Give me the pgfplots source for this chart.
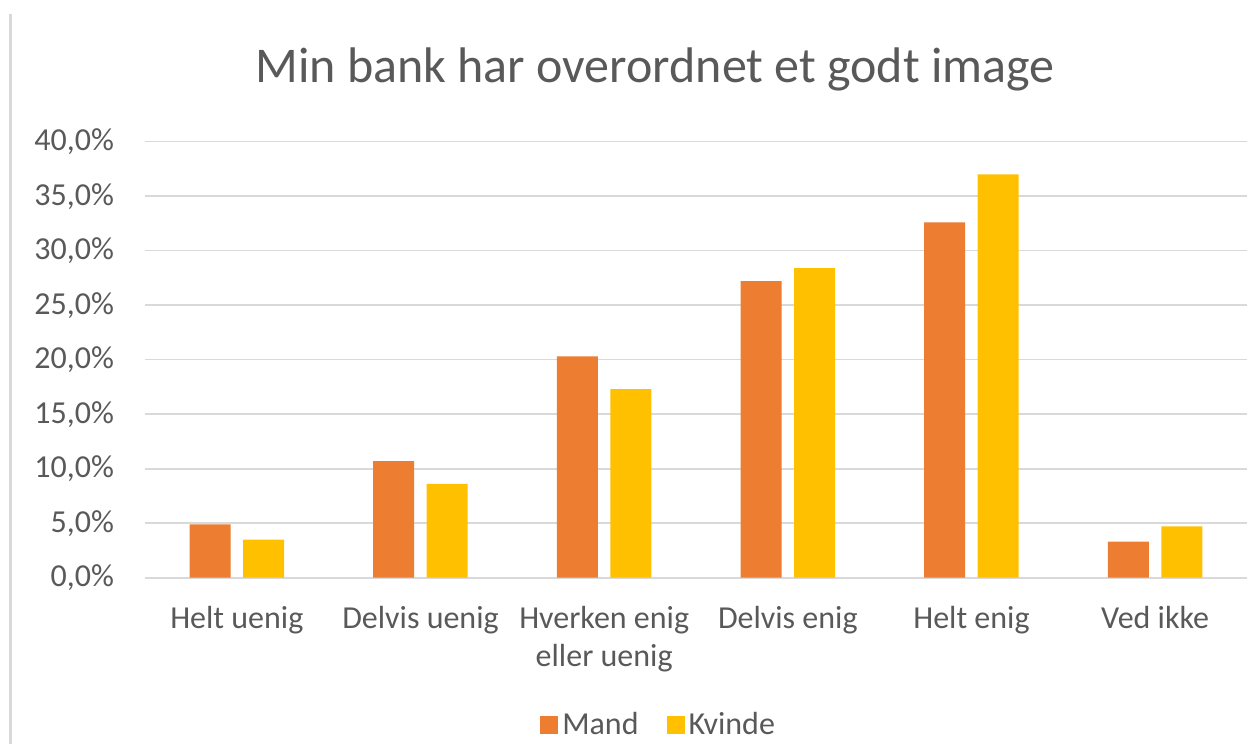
\documentclass[border=0pt]{standalone}
\usepackage{pgfplots}
\pgfplotsset{compat=1.18}
\usepackage{fontspec}
\setmainfont{Carlito}
\definecolor{mand}{HTML}{ED7D31}
\definecolor{kvinde}{HTML}{FFC000}
\definecolor{txt}{HTML}{595959}
\definecolor{gridgray}{HTML}{D9D9D9}
\begin{document}
\begin{tikzpicture}
\begin{axis}[
  at={(0pt,0pt)}, anchor=south west,
  scale only axis,
  width=551pt, height=218pt,
  ybar=6.25pt, bar width=20.5pt,
  xmin=-0.5, xmax=5.5, ymin=0, ymax=40,
  xtick={0,1,2,3,4,5},
  xticklabels={Helt uenig, Delvis uenig, {Hverken enig\\eller uenig}, Delvis enig, Helt enig, Ved ikke},
  ytick={0,5,10,15,20,25,30,35,40},
  yticklabels={{0,0\%},{5,0\%},{10,0\%},{15,0\%},{20,0\%},{25,0\%},{30,0\%},{35,0\%},{40,0\%}},
  axis line style={draw=none},
  major tick length=0pt,
  xmajorgrids=false, ymajorgrids=true,
  major grid style={draw=gridgray, line width=0.8pt},
  xticklabel style={font=\fontsize{16}{19}\selectfont, text=txt, align=center, anchor=north, yshift=-11pt},
  yticklabel style={font=\fontsize{16}{19}\selectfont, text=txt, anchor=east, xshift=-12pt},
  legend columns=2,
  legend style={draw=none, fill=none, at={(0.467,-0.338)}, anchor=center,
    font=\fontsize{16}{19}\selectfont, text=txt,
    /tikz/every even column/.append style={column sep=12pt},
    nodes={inner sep=2pt}},
  legend image code/.code={\path[#1, draw=none] (0pt,-4.5pt) rectangle (9pt,4.5pt);},
]
\addplot[fill=mand, draw=none] coordinates {(0,4.9) (1,10.7) (2,20.3) (3,27.2) (4,32.6) (5,3.3)};
\addplot[fill=kvinde, draw=none] coordinates {(0,3.5) (1,8.6) (2,17.3) (3,28.4) (4,37.0) (5,4.7)};
\legend{Mand, Kvinde}
\end{axis}
\node[anchor=base, font=\fontsize{25}{30}\selectfont, text=txt] at (255pt,247.35pt) {Min bank har overordnet et godt image};
\draw[color=gridgray, line width=1.5pt] (-67pt,281.85pt) -- (-67pt,-83.15pt);
\pgfresetboundingbox
\path[use as bounding box] (-72.5pt,-83.15pt) rectangle (554pt,288.85pt);
\end{tikzpicture}
\end{document}
